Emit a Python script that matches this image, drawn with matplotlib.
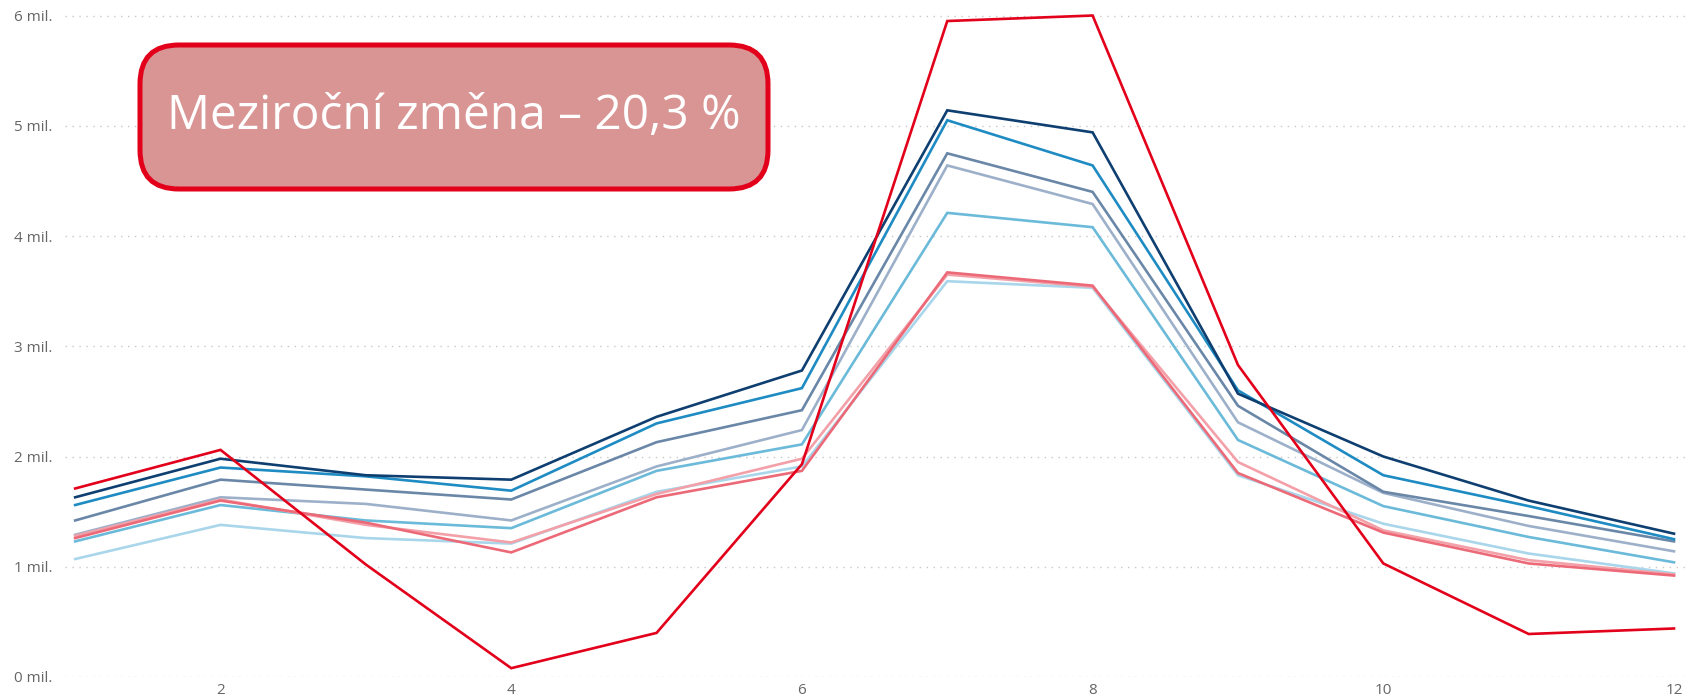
import matplotlib.pyplot as plt
from matplotlib.patches import FancyBboxPatch
from matplotlib.ticker import FuncFormatter

months = list(range(1, 13))

# values in millions
s_red = [1.71, 2.06, 1.02, 0.08, 0.40, 1.93, 5.95, 6.00, 2.83, 1.03, 0.39, 0.44]
s_navy = [1.63, 1.98, 1.83, 1.79, 2.36, 2.78, 5.14, 4.94, 2.57, 2.00, 1.60, 1.30]
s_blue = [1.56, 1.90, 1.82, 1.69, 2.30, 2.62, 5.05, 4.64, 2.60, 1.83, 1.55, 1.25]
s_slate = [1.42, 1.79, 1.70, 1.61, 2.13, 2.42, 4.75, 4.40, 2.46, 1.68, 1.46, 1.23]
s_lslate = [1.29, 1.63, 1.57, 1.42, 1.91, 2.24, 4.64, 4.29, 2.31, 1.67, 1.37, 1.14]
s_mblue = [1.23, 1.56, 1.42, 1.35, 1.87, 2.11, 4.21, 4.08, 2.15, 1.55, 1.27, 1.04]
s_pink = [1.26, 1.60, 1.40, 1.13, 1.63, 1.87, 3.67, 3.55, 1.85, 1.31, 1.03, 0.92]
s_lpink = [1.28, 1.61, 1.38, 1.22, 1.66, 1.98, 3.65, 3.54, 1.95, 1.33, 1.06, 0.93]
s_lblue = [1.07, 1.38, 1.26, 1.21, 1.68, 1.91, 3.59, 3.53, 1.83, 1.39, 1.12, 0.94]

y_ticks = [0, 1, 2, 3, 4, 5, 6]
x_ticks = [2, 4, 6, 8, 10, 12]
box_text = "Meziroční změna – 20,3 %"

series = [
    (s_lblue, '#A9D6EA'),
    (s_mblue, '#6BBAD9'),
    (s_lslate, '#9DB0C9'),
    (s_slate, '#6A87A8'),
    (s_blue, '#1E8BC3'),
    (s_navy, '#0E3F70'),
    (s_lpink, '#F3A0A9'),
    (s_pink, '#EC6A78'),
    (s_red, '#E2001A'),
]

plt.rcParams['font.family'] = ['Open Sans', 'DejaVu Sans']

fig = plt.figure(figsize=(16.9, 7), dpi=100)
ax = fig.add_axes([65/1690, 23/700, 1 - 65/1690, 667/700])

for vals, c in series:
    ax.plot(months, vals, color=c, lw=1.9, solid_joinstyle='miter')

ax.set_xlim(0.93, 12.11)
ax.set_ylim(0, 6.05)
ax.set_yticks(y_ticks)
ax.set_xticks(x_ticks)
ax.yaxis.set_major_formatter(FuncFormatter(lambda v, p: f"{int(v)} mil."))
ax.grid(axis='y', color='#C8C8C8', lw=1, ls=(0, (1, 4)))
ax.set_axisbelow(True)
for sp in ax.spines.values():
    sp.set_visible(False)
ax.tick_params(length=0, colors='#666666', labelsize=11)
ax.tick_params(axis='y', pad=9)
ax.tick_params(axis='x', pad=4)

# annotation box, in figure pixels
box = FancyBboxPatch((140/1690, 1 - 189/700), 628/1690, 144/700,
                     boxstyle="round,pad=0,rounding_size=0.023",
                     transform=fig.transFigure, facecolor='#D99594',
                     edgecolor='#E2001A', lw=3.6, mutation_aspect=1690/700)
fig.patches.append(box)
fig.text(454/1690, 1 - 116/700, box_text, color='white', fontsize=34.5,
         ha='center', va='center')

plt.savefig('out.png', dpi=100)
